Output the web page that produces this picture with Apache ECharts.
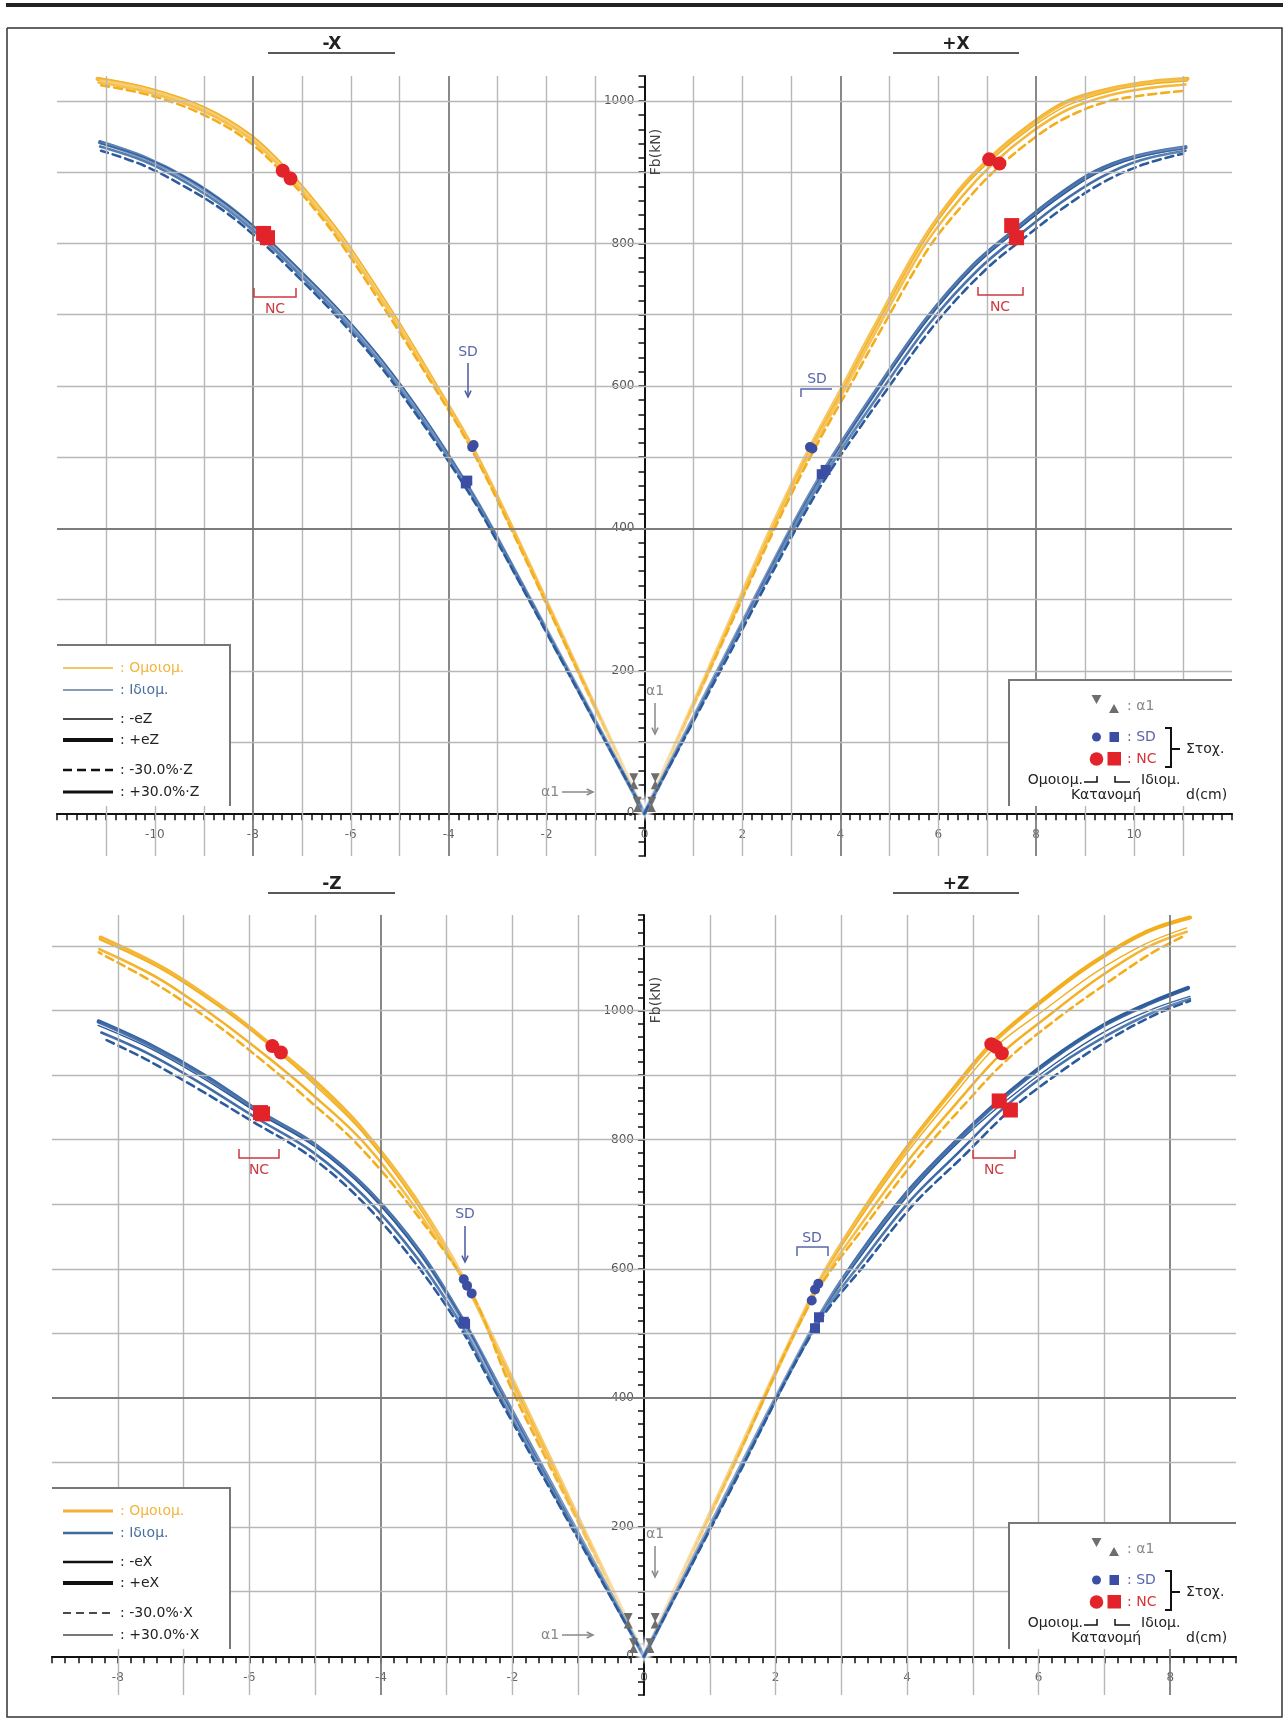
<!DOCTYPE html>
<html>
<head>
<meta charset="utf-8">
<script src="https://cdn.jsdelivr.net/npm/echarts@6/dist/echarts.min.js"></script>
<style>
html,body{margin:0;padding:0;background:#fff;}
#c{width:1288px;height:1720px;}
</style>
</head>
<body>
<div id="c"></div>
<script>
// ---------------- capacity curves, X direction (d in cm, Fb in kN) ----------------
const xNegUniPlusE   = [[0,0],[-1.35,200],[-2.7,400],[-3.52,514],[-4.3,605],[-5.07,692],[-6.1,800],[-6.65,850],[-7.3,902],[-8.07,952],[-9.02,990],[-10.13,1016],[-11.17,1031]];
const xNegUniMinusE  = [[0,0],[-1.34,200],[-2.68,400],[-3.5,514],[-4.28,606],[-5.05,694],[-6.08,802],[-6.63,851],[-7.28,903],[-8.05,953],[-9.0,992],[-10.1,1018],[-11.15,1032]];
const xNegUniMinus30 = [[0,0],[-1.37,200],[-2.73,400],[-3.55,513],[-4.33,602],[-5.12,688],[-6.15,795],[-6.7,845],[-7.35,896],[-8.12,945],[-9.05,982],[-10.1,1008],[-11.1,1022]];
const xNegUniPlus30  = [[0,0],[-1.36,200],[-2.71,400],[-3.53,514],[-4.31,604],[-5.09,691],[-6.12,798],[-6.68,848],[-7.32,899],[-8.1,949],[-9.05,987],[-10.12,1012],[-11.15,1026]];

const xNegModPlusE   = [[0,0],[-1.56,200],[-3.12,400],[-3.65,463],[-4.5,553],[-5.39,636],[-6.3,708],[-7.0,758],[-7.75,808],[-8.5,852],[-9.3,889],[-10.2,920],[-11.12,942]];
const xNegModMinusE  = [[0,0],[-1.55,200],[-3.1,400],[-3.63,463],[-4.48,554],[-5.37,637],[-6.28,710],[-7.0,760],[-7.73,809],[-8.5,853],[-9.3,890],[-10.2,920],[-11.1,940]];
const xNegModMinus30 = [[0,0],[-1.58,200],[-3.16,400],[-3.7,462],[-4.56,550],[-5.45,632],[-6.36,703],[-7.06,752],[-7.82,802],[-8.58,845],[-9.4,880],[-10.25,910],[-11.1,930]];
const xNegModPlus30  = [[0,0],[-1.57,200],[-3.14,400],[-3.67,463],[-4.53,552],[-5.42,634],[-6.33,706],[-7.03,755],[-7.78,805],[-8.55,849],[-9.35,885],[-10.2,915],[-11.12,936]];

const xPosUniPlusE   = [[0,0],[1.3,200],[2.59,400],[3.39,514],[4.0,592],[4.68,680],[5.65,800],[6.4,872],[7.04,918],[7.8,962],[8.6,998],[9.6,1018],[10.4,1027],[11.09,1031]];
const xPosUniMinusE  = [[0,0],[1.3,200],[2.6,400],[3.4,514],[4.02,592],[4.7,680],[5.68,800],[6.43,871],[7.08,917],[7.85,960],[8.65,994],[9.6,1015],[10.4,1024],[11.08,1028]];
const xPosUniMinus30 = [[0,0],[1.33,200],[2.66,400],[3.47,511],[4.1,588],[4.8,675],[5.8,793],[6.6,862],[7.2,905],[8.0,950],[8.6,976],[9.4,998],[10.2,1008],[11.0,1014]];
const xPosUniPlus30  = [[0,0],[1.32,200],[2.63,400],[3.43,512],[4.05,590],[4.74,678],[5.72,797],[6.5,867],[7.12,912],[7.9,956],[8.65,988],[9.5,1008],[10.3,1018],[11.05,1023]];

const xPosModPlusE   = [[0,0],[1.5,200],[3.0,400],[3.65,479],[4.7,590],[5.74,692],[6.7,768],[7.55,818],[8.35,862],[9.19,900],[10.04,922],[11.05,935]];
const xPosModMinusE  = [[0,0],[1.5,200],[3.0,400],[3.66,479],[4.72,590],[5.76,691],[6.72,766],[7.57,816],[8.38,860],[9.2,897],[10.05,920],[11.05,933]];
const xPosModMinus30 = [[0,0],[1.55,200],[3.1,400],[3.77,478],[4.88,588],[5.95,688],[6.95,762],[7.8,810],[8.6,852],[9.4,887],[10.2,911],[11.0,926]];
const xPosModPlus30  = [[0,0],[1.52,200],[3.05,400],[3.71,478],[4.8,589],[5.85,690],[6.83,764],[7.68,813],[8.48,856],[9.3,892],[10.1,916],[11.05,930]];

// ---------------- capacity curves, Z direction ----------------
const zNegUniPlusE   = [[0,0],[-1.0,214],[-2.0,428],[-2.74,584],[-3.5,712],[-4.3,818],[-5.0,890],[-5.65,945],[-6.34,1000],[-7.3,1065],[-8.26,1113]];
const zNegUniMinusE  = [[0,0],[-1.0,213],[-2.0,426],[-2.69,574],[-3.45,700],[-4.25,808],[-5.0,884],[-5.55,935],[-6.3,995],[-7.3,1062],[-8.28,1110]];
const zNegUniMinus30 = [[0,0],[-1.02,211],[-2.04,420],[-2.62,562],[-3.5,690],[-4.35,792],[-5.15,866],[-5.75,918],[-6.5,978],[-7.4,1040],[-8.29,1090]];
const zNegUniPlus30  = [[0,0],[-1.01,212],[-2.02,424],[-2.69,572],[-3.5,698],[-4.3,800],[-5.1,875],[-5.7,926],[-6.45,985],[-7.35,1048],[-8.28,1095]];

const zNegModPlusE   = [[0,0],[-1.1,208],[-2.2,416],[-2.74,518],[-3.4,625],[-4.2,722],[-5.0,792],[-5.83,842],[-6.66,898],[-7.5,946],[-8.29,983]];
const zNegModMinusE  = [[0,0],[-1.1,207],[-2.2,414],[-2.72,515],[-3.4,622],[-4.2,719],[-5.0,789],[-5.85,840],[-6.7,895],[-7.5,941],[-8.3,977]];
const zNegModMinus30 = [[0,0],[-1.13,205],[-2.26,410],[-2.8,510],[-3.5,612],[-4.3,706],[-5.1,776],[-5.95,828],[-6.8,880],[-7.6,926],[-8.23,957]];
const zNegModPlus30  = [[0,0],[-1.12,206],[-2.24,412],[-2.77,512],[-3.45,617],[-4.25,712],[-5.05,782],[-5.9,834],[-6.75,888],[-7.55,934],[-8.25,966]];

const zPosUniPlusE   = [[0,0],[1.3,285],[2.65,577],[3.3,685],[4.0,788],[4.7,878],[5.28,948],[6.05,1015],[6.8,1072],[7.6,1120],[8.3,1144]];
const zPosUniMinusE  = [[0,0],[1.3,283],[2.6,568],[3.3,680],[4.0,780],[4.7,868],[5.35,944],[6.1,1002],[6.85,1058],[7.6,1102],[8.25,1128]];
const zPosUniMinus30 = [[0,0],[1.3,281],[2.55,551],[3.4,672],[4.1,765],[4.85,852],[5.5,922],[6.25,985],[7.0,1040],[7.7,1088],[8.2,1115]];
const zPosUniPlus30  = [[0,0],[1.3,282],[2.6,562],[3.35,676],[4.05,772],[4.78,860],[5.44,934],[6.15,992],[6.9,1050],[7.65,1098],[8.25,1122]];

const zPosModPlusE   = [[0,0],[1.3,260],[2.66,525],[3.3,625],[4.0,718],[4.7,793],[5.4,860],[6.2,925],[7.0,978],[7.7,1012],[8.27,1035]];
const zPosModMinusE  = [[0,0],[1.3,259],[2.63,520],[3.3,620],[4.0,712],[4.7,788],[5.45,856],[6.25,918],[7.05,970],[7.75,1003],[8.3,1022]];
const zPosModMinus30 = [[0,0],[1.3,254],[2.6,508],[3.4,612],[4.1,700],[4.85,774],[5.57,846],[6.4,910],[7.15,960],[7.8,995],[8.3,1015]];
const zPosModPlus30  = [[0,0],[1.3,256],[2.62,514],[3.35,616],[4.05,706],[4.78,780],[5.5,852],[6.3,915],[7.1,965],[7.78,999],[8.3,1018]];

// ---------------- performance points ----------------
const xSdUni = [[-3.52,514],[-3.49,517],[3.38,514],[3.43,512]];
const xSdMod = [[-3.65,463],[-3.62,467],[3.62,476],[3.7,482]];
const xNcUni = [[-7.39,902],[-7.23,891],[7.04,918],[7.25,912]];
const xNcMod = [[-7.78,814],[-7.7,808],[7.5,825],[7.6,808]];
const xA1Uni = [[-0.22,50],[0.22,50],[-0.15,17],[0.15,17]];
const xA1Mod = [[-0.22,40],[0.22,40],[-0.14,8],[0.14,8]];

const zSdUni = [[-2.74,584],[-2.69,574],[-2.62,562],[2.55,551],[2.6,568],[2.65,577]];
const zSdMod = [[-2.74,518],[-2.72,515],[2.6,508],[2.66,525]];
const zNcUni = [[-5.65,945],[-5.52,935],[5.28,948],[5.44,934],[5.35,944]];
const zNcMod = [[-5.83,842],[-5.8,840],[5.4,860],[5.57,846]];
const zA1Uni = [[-0.24,60],[0.17,60],[-0.16,21],[0.09,21]];
const zA1Mod = [[-0.24,50],[0.17,50],[-0.16,12],[0.09,12]];

// ---------------- grid values ----------------
const xGridD = [-11,-10,-9,-8,-7,-6,-5,-4,-3,-2,-1,1,2,3,4,5,6,7,8,9,10,11];
const xGridDark = [-8,-4,4,8];
const xGridF = [100,200,300,400,500,600,700,800,900,1000];
const zGridD = [-8,-7,-6,-5,-4,-3,-2,-1,1,2,3,4,5,6,7,8];
const zGridDark = [-4,8];
const zGridF = [100,200,300,400,500,600,700,800,900,1000,1100];
const gridFDark = [400];

// axis extents
const xRangeD = [-12, 12], xRangeF = [-60, 1035];
const zRangeD = [-9, 9],   zRangeF = [-60, 1148];

const ORANGE = '#f3ae1d';
const BLUE = '#2b5b9c';
const SDC = '#3b4ea3';
const RED = '#e2232a';
const GREY = '#6e6e6e';
const FONT = '"DejaVu Sans", Verdana, sans-serif';

const VARIANT = {
  plusE:   {width: 4.2, dash: 'solid'},
  plus30:  {width: 2.6, dash: 'solid'},
  minusE:  {width: 1.4, dash: 'solid'},
  minus30: {width: 2.6, dash: [8, 5]}
};

function curve(gi, data, color, v) {
  const s = VARIANT[v];
  return {
    type: 'line', xAxisIndex: gi, yAxisIndex: gi, data: data,
    smooth: 0.35, showSymbol: false, symbol: 'none',
    silent: true, z: 3, animation: false,
    lineStyle: {color: color, width: s.width, type: s.dash, cap: 'round', join: 'round',
      shadowColor: 'rgba(255,255,255,1)', shadowBlur: 7}
  };
}
function points(gi, data, symbol, size, color, rotate) {
  return {type: 'scatter', xAxisIndex: gi, yAxisIndex: gi, data: data, symbol: symbol,
    symbolSize: size, symbolRotate: rotate || 0, silent: true, z: 6, animation: false,
    itemStyle: {color: color, opacity: 1}};
}
function gridLines(gi, ds, dDark, fs) {
  const data = [];
  ds.forEach(v => { const dk = dDark.indexOf(v) >= 0;
    data.push({xAxis: v, lineStyle: {color: dk ? '#7c7c7c' : '#b7b7b7', width: dk ? 1.8 : 1.4, type: 'solid'}}); });
  fs.forEach(v => { const dk = gridFDark.indexOf(v) >= 0;
    data.push({yAxis: v, lineStyle: {color: dk ? '#7c7c7c' : '#b7b7b7', width: dk ? 1.8 : 1.4, type: 'solid'}}); });
  return {type: 'line', xAxisIndex: gi, yAxisIndex: gi, data: [], z: 1, silent: true, animation: false,
    markLine: {silent: true, symbol: ['none', 'none'], label: {show: false}, animation: false, data: data}};
}

const series = [
  gridLines(0, xGridD, xGridDark, xGridF),
  gridLines(1, zGridD, zGridDark, zGridF),

  curve(0, xNegUniPlusE, ORANGE, 'plusE'), curve(0, xNegUniPlus30, ORANGE, 'plus30'),
  curve(0, xNegUniMinusE, ORANGE, 'minusE'), curve(0, xNegUniMinus30, ORANGE, 'minus30'),
  curve(0, xPosUniPlusE, ORANGE, 'plusE'), curve(0, xPosUniPlus30, ORANGE, 'plus30'),
  curve(0, xPosUniMinusE, ORANGE, 'minusE'), curve(0, xPosUniMinus30, ORANGE, 'minus30'),
  curve(0, xNegModPlusE, BLUE, 'plusE'), curve(0, xNegModPlus30, BLUE, 'plus30'),
  curve(0, xNegModMinusE, BLUE, 'minusE'), curve(0, xNegModMinus30, BLUE, 'minus30'),
  curve(0, xPosModPlusE, BLUE, 'plusE'), curve(0, xPosModPlus30, BLUE, 'plus30'),
  curve(0, xPosModMinusE, BLUE, 'minusE'), curve(0, xPosModMinus30, BLUE, 'minus30'),

  curve(1, zNegUniPlusE, ORANGE, 'plusE'), curve(1, zNegUniPlus30, ORANGE, 'plus30'),
  curve(1, zNegUniMinusE, ORANGE, 'minusE'), curve(1, zNegUniMinus30, ORANGE, 'minus30'),
  curve(1, zPosUniPlusE, ORANGE, 'plusE'), curve(1, zPosUniPlus30, ORANGE, 'plus30'),
  curve(1, zPosUniMinusE, ORANGE, 'minusE'), curve(1, zPosUniMinus30, ORANGE, 'minus30'),
  curve(1, zNegModPlusE, BLUE, 'plusE'), curve(1, zNegModPlus30, BLUE, 'plus30'),
  curve(1, zNegModMinusE, BLUE, 'minusE'), curve(1, zNegModMinus30, BLUE, 'minus30'),
  curve(1, zPosModPlusE, BLUE, 'plusE'), curve(1, zPosModPlus30, BLUE, 'plus30'),
  curve(1, zPosModMinusE, BLUE, 'minusE'), curve(1, zPosModMinus30, BLUE, 'minus30'),

  points(0, xA1Uni, 'triangle', 9, GREY, 180), points(0, xA1Mod, 'triangle', 9, GREY),
  points(0, xSdUni, 'circle', 10, SDC), points(0, xSdMod, 'rect', 10, SDC),
  points(0, xNcUni, 'circle', 14, RED), points(0, xNcMod, 'rect', 15, RED),
  points(1, zA1Uni, 'triangle', 9, GREY, 180), points(1, zA1Mod, 'triangle', 9, GREY),
  points(1, zSdUni, 'circle', 10, SDC), points(1, zSdMod, 'rect', 10, SDC),
  points(1, zNcUni, 'circle', 14, RED), points(1, zNcMod, 'rect', 15, RED)
];

// grid boxes
const GRIDS = [
  {left: 57, top: 76, width: 1175, height: 780},
  {left: 52, top: 915, width: 1184, height: 780}
];
// the axes cross at (0,0): shift each axis from the grid edge onto the zero line
function zeroOffsetX(g, r) { return -(g.height * (-r[0]) / (r[1] - r[0])); }
function zeroOffsetY(g, r) { return -(g.width * (-r[0]) / (r[1] - r[0])); }

function xAxisDef(gi, r, fr) {
  return {
    type: 'value', gridIndex: gi, min: r[0], max: r[1], interval: 0.2, position: 'bottom',
    offset: zeroOffsetX(GRIDS[gi], fr),
    axisLine: {show: true, onZero: false, lineStyle: {color: '#111', width: 2}},
    axisTick: {show: true, length: 7, inside: false, lineStyle: {color: '#111', width: 1.5}},
    axisLabel: {show: true, margin: 16, color: '#666', fontSize: 12, fontFamily: FONT,
      formatter: function (v) { const k = Math.round(v);
        return (Math.abs(v - k) < 1e-6 && k % 2 === 0 && Math.abs(k) <= 10) ? String(k) : ''; }},
    splitLine: {show: false}
  };
}
function yAxisDef(gi, r, dr) {
  return {
    type: 'value', gridIndex: gi, min: r[0], max: r[1], interval: 20, position: 'left',
    offset: zeroOffsetY(GRIDS[gi], dr),
    axisLine: {show: true, onZero: false, lineStyle: {color: '#111', width: 2}},
    axisTick: {show: true, length: 6, inside: false, lineStyle: {color: '#111', width: 1.5}},
    axisLabel: {show: true, margin: 10, color: '#555', fontSize: 12, fontFamily: FONT,
      formatter: function (v) { return (v >= 0 && Math.abs(v % 200) < 1e-6) ? String(v) : ''; }},
    splitLine: {show: false}
  };
}

// ---------------- decorations ----------------
const G = [];
function T(x, y, s, o) {
  o = o || {};
  G.push({type: 'text', x: x, y: y, z: 60, rotation: o.rot || 0, silent: true,
    style: {text: s, fill: o.color || '#222', font: (o.weight || 'normal') + ' ' + (o.size || 14) + 'px ' + FONT,
      textAlign: o.align || 'left', textVerticalAlign: 'middle'}});
}
function L(pts, o) {
  o = o || {};
  G.push({type: 'polyline', z: o.z || 60, silent: true, shape: {points: pts},
    style: {stroke: o.color || '#222', lineWidth: o.w || 1.5, fill: null, lineDash: o.dash || null}});
}
function R(x, y, w, h, fill, z) {
  G.push({type: 'rect', z: z || 55, silent: true, shape: {x: x, y: y, width: w, height: h}, style: {fill: fill, stroke: null}});
}
function C(cx, cy, r, fill) {
  G.push({type: 'circle', z: 61, silent: true, shape: {cx: cx, cy: cy, r: r}, style: {fill: fill}});
}
function P(pts, fill) {
  G.push({type: 'polygon', z: 61, silent: true, shape: {points: pts}, style: {fill: fill}});
}
function arrow(x1, y1, x2, y2, color) {
  L([[x1, y1], [x2, y2]], {color: color, w: 1.5});
  const a = Math.atan2(y2 - y1, x2 - x1), h = 7, s = 0.45;
  L([[x2 - h * Math.cos(a - s), y2 - h * Math.sin(a - s)], [x2, y2], [x2 - h * Math.cos(a + s), y2 - h * Math.sin(a + s)]], {color: color, w: 1.5});
}

// outer frame
L([[6, 5], [1283, 5]], {color: '#222', w: 4});
L([[7, 28], [1282, 28], [1282, 1717], [7, 1717], [7, 28]], {color: '#333', w: 1.5});

function panelDecor(g, axisY, titleY, dirL, dirR, comp, big) {
  const gl = g.left, gr = g.left + g.width;
  // titles
  T(332, titleY, dirL, {weight: 'bold', size: 17, align: 'center'});
  L([[268, titleY + 8], [395, titleY + 8]], {w: 1.5});
  T(956, titleY, dirR, {weight: 'bold', size: 17, align: 'center'});
  L([[893, titleY + 8], [1019, titleY + 8]], {w: 1.5});

  // line-style legend
  R(gl - 1, axisY - 168, 231 - gl, 161, '#fff');
  L([[gl, axisY - 168], [230, axisY - 168], [230, axisY - 7]], {color: '#777', w: 2});
  const rows = big ? [
    [': Ομοιομ.', '#f1b53e', {color: '#f1b23a', w: 3}],
    [': Ιδιομ.', '#48709c', {color: '#3d6a98', w: 2.5}],
    [': -e' + comp, '#222', {color: '#111', w: 2.5}],
    [': +e' + comp, '#222', {color: '#111', w: 4}],
    [': -30.0%·' + comp, '#222', {color: '#111', w: 1.5, dash: [8, 5]}],
    [': +30.0%·' + comp, '#222', {color: '#777', w: 2}]
  ] : [
    [': Ομοιομ.', '#f1b53e', {color: '#f1b23a', w: 1.4}],
    [': Ιδιομ.', '#48709c', {color: '#5d7d9d', w: 1.4}],
    [': -e' + comp, '#222', {color: '#111', w: 1.4}],
    [': +e' + comp, '#222', {color: '#111', w: 4}],
    [': -30.0%·' + comp, '#222', {color: '#111', w: 2.5, dash: [9, 5]}],
    [': +30.0%·' + comp, '#222', {color: '#111', w: 3}]
  ];
  const dy = [-145, -123, -94, -73, -43, -21];
  rows.forEach((r, i) => {
    L([[63, axisY + dy[i]], [113, axisY + dy[i]]], r[2]);
    T(120, axisY + dy[i], r[0], {color: r[1], size: 14});
  });

  // marker legend
  R(1009, axisY - 133, gr - 1009 + 1, 126, '#fff');
  L([[1009, axisY - 7], [1009, axisY - 133], [gr, axisY - 133]], {color: '#777', w: 2});
  const ty = axisY - 114;
  P([[1091.5, ty - 4], [1101.5, ty - 4], [1096.5, ty + 5]], GREY);
  P([[1109, ty + 14], [1119, ty + 14], [1114, ty + 5]], GREY);
  T(1127, axisY - 107, ': α1', {color: '#888', size: 14});
  C(1096.5, axisY - 76, 4.5, SDC);
  R(1109.5, axisY - 81, 9.5, 10, SDC, 61);
  T(1127, axisY - 76, ': SD', {color: '#5865ab', size: 14});
  C(1096.5, axisY - 54, 6.8, RED);
  R(1107.5, axisY - 61, 13.5, 13.5, RED, 61);
  T(1127, axisY - 54, ': NC', {color: '#d8343b', size: 14});
  L([[1165, axisY - 85], [1171, axisY - 85], [1171, axisY - 46], [1165, axisY - 46]], {color: '#111', w: 2});
  L([[1171, axisY - 64], [1180, axisY - 64]], {color: '#111', w: 2});
  T(1186, axisY - 64, 'Στοχ.', {size: 14});
  T(1083, axisY - 33, 'Ομοιομ.', {size: 14, align: 'right'});
  L([[1084, axisY - 31], [1097, axisY - 31], [1097, axisY - 37]], {color: '#111', w: 1.5});
  L([[1115, axisY - 37], [1115, axisY - 31], [1130, axisY - 31]], {color: '#111', w: 1.5});
  T(1141, axisY - 33, 'Ιδιομ.', {size: 14});
  T(1106, axisY - 18, 'Κατανομή', {size: 14, align: 'center'});
  T(1186, axisY - 18, 'd(cm)', {size: 14});

  // α1 pointers
  T(550, axisY - 21, 'α1', {color: '#888', size: 14, align: 'center'});
  arrow(562, axisY - 21, 593, axisY - 21, '#888');
  T(655, axisY - 122, 'α1', {color: '#888', size: 14, align: 'center'});
  arrow(655, axisY - 110, 655, axisY - 79, '#888');
}

panelDecor(GRIDS[0], 813, 45, '-X', '+X', 'Z', false);
panelDecor(GRIDS[1], 1656, 885, '-Z', '+Z', 'X', true);

// axis names
T(656, 152, 'Fb(kN)', {size: 14, color: '#444', align: 'center', rot: Math.PI / 2});
T(656, 1000, 'Fb(kN)', {size: 14, color: '#444', align: 'center', rot: Math.PI / 2});

// target annotations
const NCC = '#cc3a40', SDT = '#5865ab';
// top panel
L([[254, 288], [254, 297], [296, 297], [296, 288]], {color: NCC, w: 1.5});
T(275, 309, 'NC', {color: NCC, size: 14, align: 'center'});
L([[978, 287], [978, 295], [1023, 295], [1023, 287]], {color: NCC, w: 1.5});
T(1000, 307, 'NC', {color: NCC, size: 14, align: 'center'});
T(468, 352, 'SD', {color: SDT, size: 14, align: 'center'});
arrow(468, 363, 468, 397, '#4a5aa0');
T(817, 379, 'SD', {color: SDT, size: 14, align: 'center'});
L([[801, 397], [801, 389], [832, 389]], {color: SDT, w: 1.5});
// bottom panel
L([[239, 1149], [239, 1158], [279, 1158], [279, 1149]], {color: NCC, w: 1.5});
T(259, 1170, 'NC', {color: NCC, size: 14, align: 'center'});
L([[973, 1150], [973, 1158], [1015, 1158], [1015, 1150]], {color: NCC, w: 1.5});
T(994, 1170, 'NC', {color: NCC, size: 14, align: 'center'});
T(465, 1214, 'SD', {color: SDT, size: 14, align: 'center'});
arrow(465, 1226, 465, 1262, '#4a5aa0');
T(812, 1238, 'SD', {color: SDT, size: 14, align: 'center'});
L([[797, 1256], [797, 1247], [828, 1247], [828, 1256]], {color: SDT, w: 1.5});

const option = {
  animation: false,
  backgroundColor: '#fff',
  textStyle: {fontFamily: FONT},
  grid: GRIDS.map(g => Object.assign({containLabel: false}, g)),
  xAxis: [xAxisDef(0, xRangeD, xRangeF), xAxisDef(1, zRangeD, zRangeF)],
  yAxis: [yAxisDef(0, xRangeF, xRangeD), yAxisDef(1, zRangeF, zRangeD)],
  series: series,
  graphic: {elements: G}
};

const chart = echarts.init(document.getElementById('c'), null, {renderer: 'canvas', width: 1288, height: 1720});
chart.setOption(option);
</script>
</body>
</html>
